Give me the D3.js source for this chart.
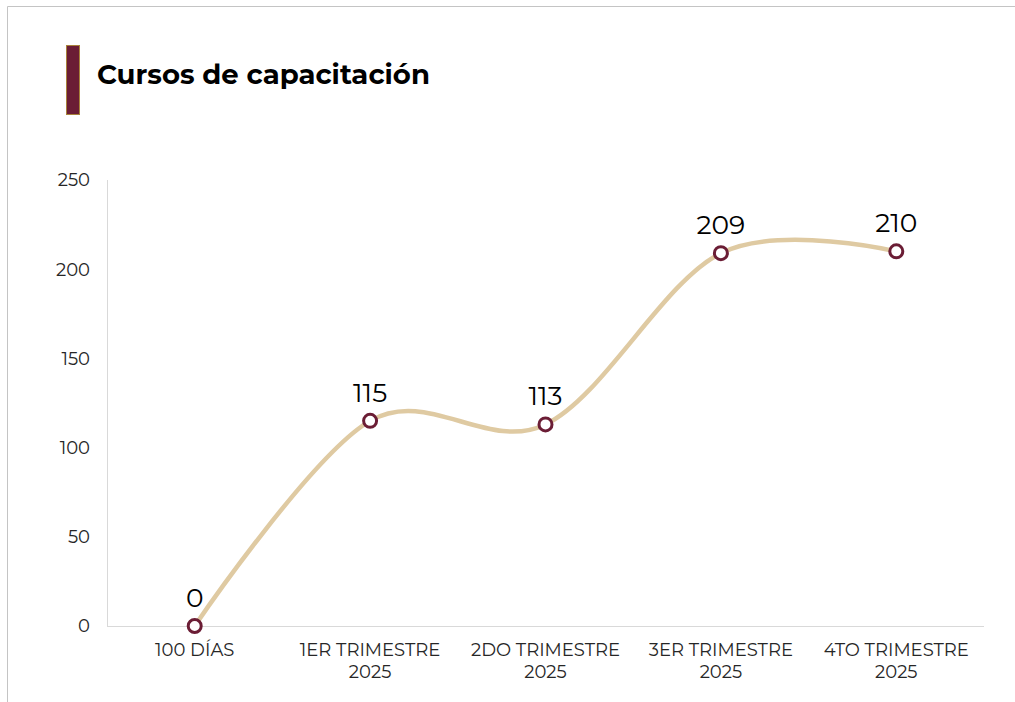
<!DOCTYPE html>
<html>
<head>
<meta charset="utf-8">
<script src="https://cdn.jsdelivr.net/npm/d3@7"></script>
<style>
  body { margin: 0; background: #fff; }
  svg { display: block; font-family: "Montserrat", Inter, "Noto Sans", sans-serif; }
</style>
</head>
<body>
<script>
// line chart: cursos de capacitacion por periodo

const categories = ["100 DÍAS", "1ER TRIMESTRE 2025", "2DO TRIMESTRE 2025", "3ER TRIMESTRE 2025", "4TO TRIMESTRE 2025"];
const categoryLines = [["100 DÍAS"], ["1ER TRIMESTRE", "2025"], ["2DO TRIMESTRE", "2025"], ["3ER TRIMESTRE", "2025"], ["4TO TRIMESTRE", "2025"]];
const values = [0, 115, 113, 209, 210];
const yTicks = [0, 50, 100, 150, 200, 250];
const title = "Cursos de capacitación";

const W = 1015, H = 702;
const margin = {top: 180, right: 31, bottom: 76, left: 107};

const svg = d3.select("body").append("svg")
    .attr("width", W)
    .attr("height", H);

// frame
svg.append("path")
    .attr("d", `M7.5,${H} V6.5 H${W}`)
    .attr("fill", "none")
    .attr("stroke", "#c4c4c4")
    .attr("stroke-width", 1);

// title block
svg.append("rect")
    .attr("x", 66.5).attr("y", 45.5)
    .attr("width", 13).attr("height", 69)
    .attr("fill", "#6b1d35")
    .attr("stroke", "#a8813a")
    .attr("stroke-width", 1);

svg.append("text")
    .attr("x", 97).attr("y", 84)
    .style("font-size", "27.5px")
    .style("font-weight", "bold")
    .attr("fill", "#000")
    .text(title);

let x = d3.scaleBand()
    .domain(categories)
    .range([margin.left, W - margin.right]);

let y = d3.scaleLinear()
    .domain([0, 250])
    .range([H - margin.bottom, margin.top]);

// axis lines
svg.append("line")
    .attr("x1", margin.left + 0.5).attr("x2", margin.left + 0.5)
    .attr("y1", y(250)).attr("y2", y(0))
    .attr("stroke", "#d9d9d9");
svg.append("line")
    .attr("x1", margin.left).attr("x2", W - margin.right)
    .attr("y1", y(0) + 0.5).attr("y2", y(0) + 0.5)
    .attr("stroke", "#d9d9d9");

// y tick labels
svg.selectAll(".ytick")
    .data(yTicks)
    .enter()
    .append("text")
    .attr("x", 90)
    .attr("y", d => y(d))
    .attr("dy", "0.35em")
    .attr("text-anchor", "end")
    .style("font-size", "18px")
    .attr("fill", "#262626")
    .text(d => d);

// x tick labels
svg.selectAll(".xtick")
    .data(categories)
    .enter()
    .append("text")
    .attr("text-anchor", "middle")
    .style("font-size", "18px")
    .attr("fill", "#262626")
    .attr("transform", d => "translate(" + (x(d) + x.bandwidth() / 2) + "," + (y(0) + 30) + ")")
    .each(function(d, i) {
        d3.select(this).selectAll("tspan")
            .data(categoryLines[i])
            .enter()
            .append("tspan")
            .attr("x", 0)
            .attr("dy", (t, j) => j === 0 ? 0 : 22)
            .text(t => t);
    });

let pts = values.map((v, i) => [x(categories[i]) + x.bandwidth() / 2, y(v)]);

let line = d3.line()
    .curve(d3.curveCardinal.tension(0));

svg.append("path")
    .attr("d", line(pts))
    .attr("fill", "none")
    .attr("stroke", "#dfcaa2")
    .attr("stroke-width", 4.5)
    .attr("stroke-linecap", "round");

svg.selectAll(".dot")
    .data(pts)
    .enter()
    .append("circle")
    .attr("cx", d => d[0])
    .attr("cy", d => d[1])
    .attr("r", 6.5)
    .attr("fill", "#fff")
    .attr("stroke", "#6b1d35")
    .attr("stroke-width", 3);

svg.selectAll(".lbl")
    .data(values)
    .enter()
    .append("text")
    .attr("x", (d, i) => pts[i][0])
    .attr("y", (d, i) => pts[i][1] - 19)
    .attr("text-anchor", "middle")
    .style("font-size", "26.5px")
    .attr("fill", "#000")
    .text(d => d);
</script>
</body>
</html>
